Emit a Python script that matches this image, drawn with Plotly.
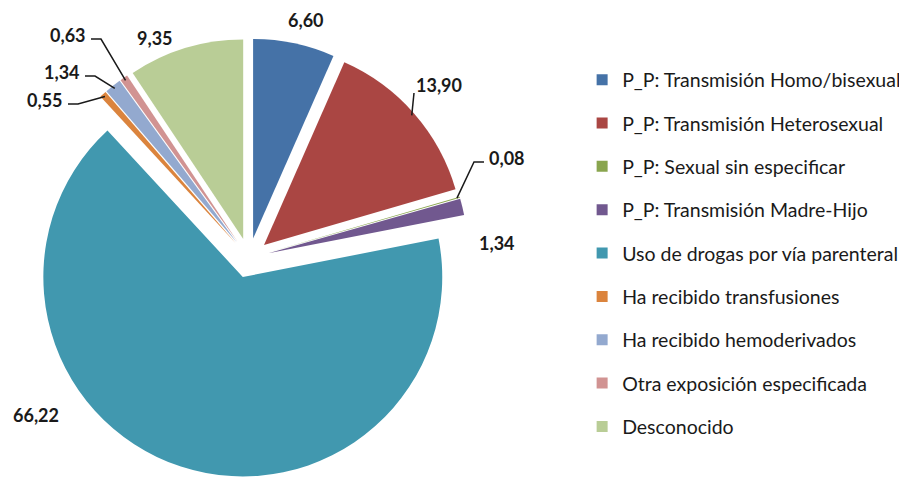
import math
import plotly.graph_objects as go

categories = [
    "P_P: Transmisión Homo/bisexual",
    "P_P: Transmisión Heterosexual",
    "P_P: Sexual sin especificar",
    "P_P: Transmisión Madre-Hijo",
    "Uso de drogas por vía parenteral",
    "Ha recibido transfusiones",
    "Ha recibido hemoderivados",
    "Otra exposición especificada",
    "Desconocido",
]
values = [6.60, 13.90, 0.08, 1.34, 66.22, 0.55, 1.34, 0.63, 9.35]
colors = ["#4572A7", "#AA4643", "#89A54E", "#71588F", "#4198AF",
          "#DB843D", "#93A9CF", "#D19392", "#B9CD96"]

W, H = 907, 477
OFF = 8  # margen por defecto del <body> de la pagina
PULL = 0.1
dom_x = [0.0176, 0.5138]
dom_y = [0.0159, 0.9358]

# posiciones de las etiquetas en pixeles de pantalla, anclaje y linea guia
label_xy = [(306, 20), (439, 85), (487, 158), (497, 243), (36, 415),
            (65, 100), (82, 72), (88, 35), (155, 38)]
label_anchor = ["center", "center", "left", "center", "center",
                "right", "right", "right", "center"]
leader = ["none", "straight", "elbow", "none", "none",
          "elbow", "elbow", "elbow", "none"]

labels_txt = [f"{v:.2f}".replace(".", ",") for v in values]


def px(x, y):
    # pixeles de pantalla -> coordenadas paper
    return (x - OFF) / W, 1 - (y - OFF) / H


fig = go.Figure()
fig.add_trace(go.Pie(
    labels=categories, values=values,
    textinfo="none",
    sort=False, direction="clockwise", rotation=0,
    pull=[PULL] * len(values),
    marker=dict(colors=colors, line=dict(width=0)),
    domain=dict(x=dom_x, y=dom_y),
    showlegend=False,
    hoverinfo="label+value",
))

# geometria del pastel en pixeles de pantalla
bw = (dom_x[1] - dom_x[0]) * W
bh = (dom_y[1] - dom_y[0]) * H
cx = (dom_x[0] + dom_x[1]) / 2 * W + OFF
cy = H - (dom_y[0] + dom_y[1]) / 2 * H + OFF
r = min(bw, bh) / 2 / (1 + PULL)
R_tip = r * (1 + PULL) - 3

total = sum(values)
cum = 0
for i, v in enumerate(values):
    theta = (cum + v / 2) / total * 2 * math.pi
    cum += v
    lx, ly = label_xy[i]
    ax, ay = px(lx, ly)
    fig.add_annotation(
        x=ax, y=ay, xref="paper", yref="paper",
        text="<b>" + labels_txt[i] + "</b>", showarrow=False,
        xanchor=label_anchor[i], yanchor="middle",
        font=dict(family="Lato", size=18, color="#1a1a1a"),
    )
    tx, ty = px(cx + R_tip * math.sin(theta), cy - R_tip * math.cos(theta))
    if leader[i] == "elbow":
        side = 1 if label_anchor[i] == "right" else -1
        x0, y0 = px(lx + side * 3, ly + 4)
        x1, _ = px(lx + side * 13, ly + 4)
        path = f"M {x0} {y0} L {x1} {y0} L {tx} {ty}"
    elif leader[i] == "straight":
        x0, y0 = px(lx - 25, ly + 8)
        path = f"M {x0} {y0} L {tx} {ty}"
    else:
        continue
    fig.add_shape(type="path", path=path, xref="paper", yref="paper",
                  line=dict(color="#1a1a1a", width=1.5))

# leyenda con trazas auxiliares para poder separar las entradas
for i, (cat, col) in enumerate(zip(categories, colors)):
    fig.add_trace(go.Scatter(
        x=[None], y=[None], mode="markers", name=cat,
        marker=dict(symbol="square", size=11, color=col),
        legendgroup=str(i), showlegend=True,
    ))

fig.update_layout(
    width=W, height=H,
    margin=dict(l=0, r=0, t=0, b=0),
    paper_bgcolor="white", plot_bgcolor="white",
    font=dict(family="Lato", size=19.5, color="#1a1a1a"),
    xaxis=dict(visible=False), yaxis=dict(visible=False),
    legend=dict(x=0.633, y=0.890, xanchor="left", yanchor="top",
                tracegroupgap=15, itemwidth=30,
                font=dict(family="Lato", size=19.5, color="#1a1a1a")),
)

fig.write_html("out.html")
